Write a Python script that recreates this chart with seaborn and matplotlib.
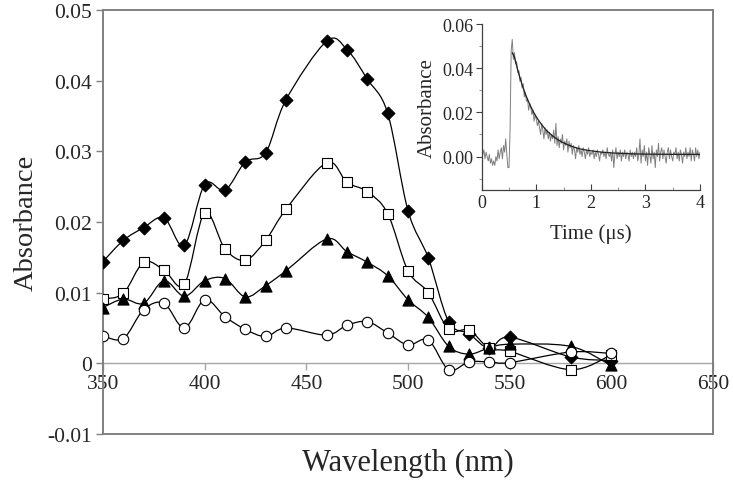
import numpy as np
import pandas as pd
import matplotlib
matplotlib.use("Agg")
import matplotlib.pyplot as plt
from matplotlib.path import Path
from matplotlib.patches import PathPatch
from matplotlib.ticker import FuncFormatter, MultipleLocator
import seaborn as sns

# ---------------- data ----------------
wavelengths = [350, 360, 370, 380, 390, 400, 410, 420, 430, 440, 460, 470,
               480, 490, 500, 510, 520, 530, 540, 550, 580, 600]
diamond = [0.0144, 0.0174, 0.0192, 0.0206, 0.0167, 0.0253, 0.0245, 0.0285,
           0.0298, 0.0373, 0.0456, 0.0444, 0.0402, 0.0354, 0.0216, 0.0149,
           0.0059, 0.0042, 0.0021, 0.0037, 0.0009, 0.0004]
square = [0.0091, 0.0099, 0.0143, 0.0132, 0.0112, 0.0213, 0.0162, 0.0146,
          0.0174, 0.0218, 0.0284, 0.0256, 0.0243, 0.0212, 0.0131, 0.0100,
          0.0048, 0.0047, 0.0021, 0.0017, -0.0009, 0.0012]
triangle = [0.0079, 0.0091, 0.0085, 0.0117, 0.0095, 0.0117, 0.0120, 0.0094,
            0.0110, 0.0131, 0.0176, 0.0158, 0.0143, 0.0124, 0.0090, 0.0065,
            0.0024, 0.0013, 0.0022, 0.0027, 0.0024, -0.0003]
circle = [0.0039, 0.0035, 0.0076, 0.0085, 0.0050, 0.0090, 0.0066, 0.0048,
          0.0038, 0.0050, 0.0040, 0.0054, 0.0059, 0.0043, 0.0026, 0.0033,
          -0.0009, 0.0002, 0.0002, 0.0001, 0.0016, 0.0014]

x_ticks = [350, 400, 450, 500, 550, 600, 650]
y_ticks = [-0.01, 0.0, 0.01, 0.02, 0.03, 0.04, 0.05]

# inset: transient absorbance trace (time step 0.02 us, 0..4 us)
trace_time = [round(i * 0.02, 2) for i in range(201)]
trace_abs = [
    0.004, 0.001, 0.003, -0.001, 0.002, 0.000, -0.002, 0.001, -0.003, -0.001,
    -0.004, -0.002, -0.004, 0.000, -0.002, 0.003, -0.001, 0.002, 0.004, -0.001,
    0.005, 0.002, 0.008, 0.001, -0.005, -0.005, 0.012, 0.048, 0.053, 0.044,
    0.047, 0.042, 0.043, 0.038, 0.039, 0.034, 0.036, 0.031, 0.033, 0.027,
    0.029, 0.025, 0.026, 0.021, 0.024, 0.022, 0.019, 0.021, 0.016, 0.019,
    0.017, 0.014, 0.016, 0.013, 0.010, 0.015, 0.012, 0.008, 0.013, 0.010,
    0.012, 0.008, 0.011, 0.007, 0.010, 0.008, 0.012, 0.006, 0.015, 0.005,
    0.009, 0.004, 0.008, 0.006, 0.010, 0.003, 0.007, 0.005, 0.008, 0.002,
    0.007, 0.004, 0.006, 0.001, 0.005, 0.003, -0.001, 0.004, 0.002, 0.005,
    0.001, 0.003, 0.000, 0.004, 0.002, -0.001, 0.003, 0.001, 0.004, 0.000,
    0.002, 0.001, 0.003, -0.001, 0.002, 0.000, 0.003, 0.001, -0.002, 0.002,
    0.001, 0.003, 0.000, 0.002, -0.001, 0.004, 0.001, 0.000, 0.002, -0.002,
    0.003, -0.005, 0.001, 0.004, -0.001, 0.002, 0.000, 0.003, -0.002, 0.002,
    0.000, 0.003, -0.001, 0.002, 0.001, -0.002, 0.003, 0.000, 0.002, -0.001,
    0.002, 0.000, 0.004, -0.002, 0.001, 0.008, -0.003, 0.003, 0.000, 0.005,
    -0.002, 0.002, -0.004, 0.004, 0.001, -0.003, 0.005, -0.001, 0.002, -0.005,
    0.003, 0.000, 0.006, -0.002, 0.002, 0.004, -0.001, 0.003, 0.000, -0.003,
    0.002, 0.004, -0.001, 0.003, 0.000, -0.002, 0.002, 0.001, 0.004, -0.001,
    0.002, -0.002, 0.003, 0.001, -0.003, 0.002, 0.000, 0.004, -0.001, 0.002,
    0.000, 0.004, -0.002, 0.003, 0.001, -0.002, 0.004, 0.000, 0.003, -0.001,
    0.002,
]
fit_time = [0.56, 0.60, 0.65, 0.70, 0.75, 0.80, 0.85, 0.90, 0.95, 1.00, 1.05,
            1.10, 1.15, 1.20, 1.25, 1.30, 1.35, 1.40, 1.45, 1.50, 1.60, 1.70,
            1.80, 1.90, 2.00, 2.20, 2.40, 2.60, 2.80, 3.00, 3.50, 4.00]
fit_abs = [0.0470, 0.0450, 0.0401, 0.0357, 0.0318, 0.0283, 0.0253, 0.0226,
           0.0201, 0.0180, 0.0161, 0.0144, 0.0129, 0.0115, 0.0104, 0.0093,
           0.0084, 0.0076, 0.0068, 0.0062, 0.0051, 0.0042, 0.0035, 0.0030,
           0.0026, 0.0020, 0.0016, 0.0014, 0.0012, 0.0011, 0.0010, 0.0010]

# ---------------- style ----------------
sns.set_style("white")
plt.rcParams["font.family"] = ["Liberation Serif", "DejaVu Serif"]

fig = plt.figure(figsize=(7.33, 4.89), dpi=100)
ax = fig.add_axes([103 / 733, 1 - 435 / 489, 610 / 733, 424 / 489])


def smooth_path(xs, ys):
    pts = np.column_stack([xs, ys]).astype(float)
    n = len(pts)
    verts = [pts[0]]
    codes = [Path.MOVETO]
    for i in range(n - 1):
        p0 = pts[i - 1] if i > 0 else pts[i]
        p1 = pts[i]
        p2 = pts[i + 1]
        p3 = pts[i + 2] if i + 2 < n else pts[i + 1]
        c1 = p1 + (p2 - p0) / 6.0
        c2 = p2 - (p3 - p1) / 6.0
        verts += [c1, c2, p2]
        codes += [Path.CURVE4] * 3
    return Path(verts, codes)


series = [
    ("diamond", diamond, "D", "black", 6.5),
    ("square", square, "s", "white", 7.5),
    ("triangle", triangle, "^", "black", 8),
    ("circle", circle, "o", "white", 7.5),
]

for name, vals, mk, fc, ms in series:
    patch = PathPatch(smooth_path(wavelengths, vals), facecolor="none",
                      edgecolor="black", lw=0.9, zorder=2)
    ax.add_patch(patch)

for name, vals, mk, fc, ms in series:
    df = pd.DataFrame({"wl": wavelengths, "A": vals})
    sns.scatterplot(data=df, x="wl", y="A", marker=mk, s=ms ** 2,
                    color=fc, edgecolor="black", linewidth=0.8, ax=ax,
                    zorder=3, legend=False)

ax.set_xlim(350, 650)
ax.set_ylim(-0.01, 0.05)
ax.set_yticks(y_ticks)
ax.yaxis.set_major_formatter(FuncFormatter(lambda v, p: "0" if abs(v) < 1e-9 else f"{v:.2f}"))
ax.tick_params(axis="y", direction="out", length=5, width=1, color="#808080",
               labelsize=15.5, pad=3, left=True)
ax.tick_params(axis="x", bottom=False, labelbottom=False)
for side in ["top", "right", "bottom", "left"]:
    ax.spines[side].set_color("#808080")
    ax.spines[side].set_linewidth(1.4)
ax.set_xlabel("Wavelength (nm)", fontsize=22, labelpad=10)
ax.set_ylabel("Absorbance", fontsize=20.5, labelpad=6)

# x axis crossing at zero
sec = ax.secondary_xaxis(1 / 6)
sec.set_xticks(x_ticks)
sec.spines["bottom"].set_color("#a6a6a6")
sec.spines["bottom"].set_linewidth(1.0)
sec.tick_params(direction="out", length=5, width=1, color="#a6a6a6",
                labelsize=15.5, pad=3)

# ---------------- inset ----------------
ins = fig.add_axes([481.7 / 733, 1 - 190.7 / 489, 218.3 / 733, 165.7 / 489])
ins.patch.set_alpha(0)
sns.lineplot(x=trace_time, y=trace_abs, color="#7f7f7f", lw=0.7, ax=ins,
             zorder=2)
sns.lineplot(x=fit_time, y=fit_abs, color="#202020", lw=0.9, ax=ins, zorder=3)
ins.set_xlim(0, 4)
ins.set_ylim(-0.015, 0.06)
ins.set_xticks([0, 1, 2, 3, 4])
ins.set_yticks([0.0, 0.02, 0.04, 0.06])
ins.xaxis.set_minor_locator(MultipleLocator(0.5))
ins.yaxis.set_minor_locator(MultipleLocator(0.01))
ins.yaxis.set_major_formatter(FuncFormatter(lambda v, p: f"{v:.2f}"))
for side in ["top", "right"]:
    ins.spines[side].set_visible(False)
for side in ["left", "bottom"]:
    ins.spines[side].set_color("#404040")
    ins.spines[side].set_linewidth(0.9)
ins.tick_params(axis="y", which="major", direction="out", length=4, width=0.8,
                labelsize=13, pad=2, left=True, color="#404040")
ins.tick_params(axis="y", which="minor", direction="out", length=2.5, width=0.6,
                left=True, color="#808080")
ins.tick_params(axis="x", which="major", direction="in", length=4, width=0.8,
                labelsize=13, pad=3, bottom=True, color="#404040")
ins.tick_params(axis="x", which="minor", direction="in", length=2.5, width=0.6,
                bottom=True, color="#808080")
ins.set_xlabel("Time (\u03bcs)", fontsize=15, labelpad=9)
ins.set_ylabel("Absorbance", fontsize=15, labelpad=4)

fig.savefig("out.png", dpi=100)
